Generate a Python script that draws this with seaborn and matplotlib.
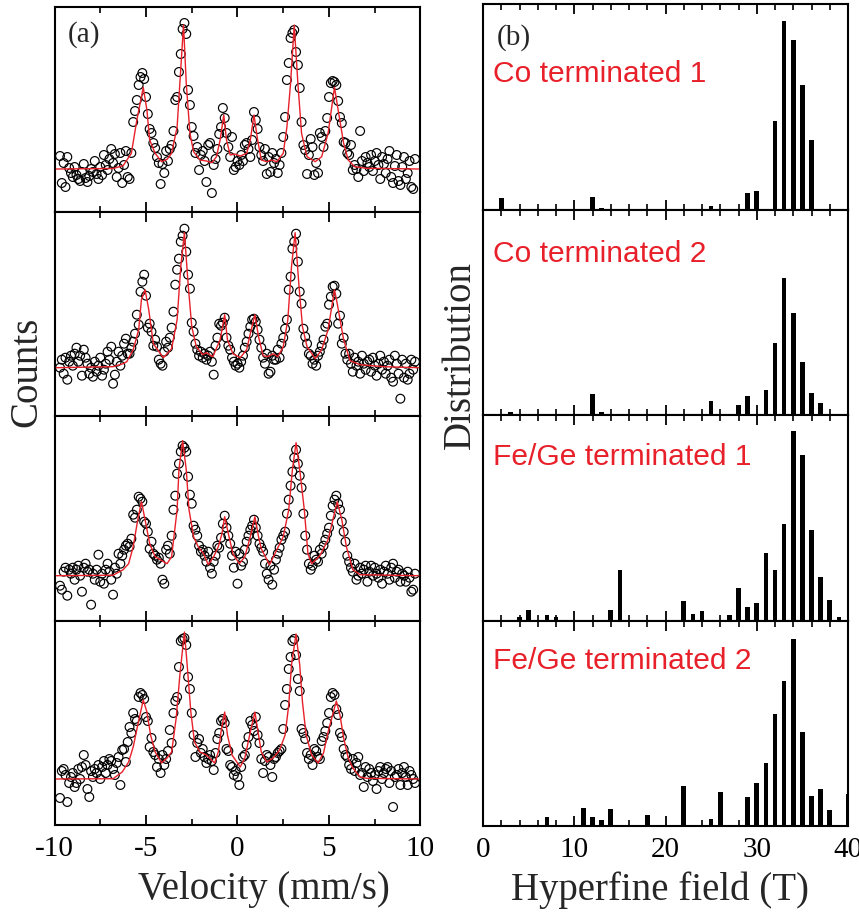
import numpy as np
import pandas as pd
import matplotlib
matplotlib.use("Agg")
import matplotlib.pyplot as plt
import seaborn as sns
from matplotlib.ticker import MultipleLocator

sns.set_style("white")
plt.rcParams["font.family"] = ["Liberation Serif", "DejaVu Serif"]
plt.rcParams["axes.unicode_minus"] = False
plt.rcParams["xtick.color"] = "black"
plt.rcParams["axes.edgecolor"] = "black"

RED = "#e8202a"

# ---------------------------------------------------------------- spectra
# channel velocities (mm/s), one count value per channel
velocity = np.round(np.arange(-97, 98) / 10, 1)

counts_co1 = [
    13, -14, 6, -18, 12, 1, -4, -8,
    2, -6, -10, -12, -3, 5, -9, -13, -7, 0,
    -3, 8, -5, -10, 2, -6, 14, 4, -1, 10,
    20, 6, 15, -8, 1, 16, -14, 4, 18, -8,
    -10, 16, 47, 58, 69, 84, 92, 96, 90, 72,
    55, 40, 36, 26, 21, 12, 6, -15, 5, -4,
    18, 8, 20, 24, 38, 69, 72, 97, 115, 140,
    146, 135, 79, 64, 42, 33, 16, 22, -1, 14,
    18, 8, -13, 24, 26, -24, 4, 10, 20, 35,
    42, 61, 51, 36, 22, 12, 32, -1, 2, 8,
    4, 14, 8, 24, 26, 20, 12, 29, 57, 49,
    40, 22, 14, 8, 20, -5, 12, -3, 16, 6,
    10, -4, 4, 16, 32, 52, 89, 106, 131, 136,
    139, 117, 104, 81, 47, 24, 19, -5, 14, 30,
    22, -6, 6, -4, 36, 32, 22, 38, 51, 72,
    86, 88, 87, 84, 68, 52, 46, 27, 26, 16,
    14, 24, -1, 4, 0, -8, 38, 8, -2, 12,
    6, 2, 14, -2, 8, 16, 4, -10, 12, 5,
    -4, 10, 18, -8, -14, 3, 14, -12, -16, 2,
    12, -10, -4, 8, -18, -20, 10,
]
counts_co2 = [
    0, 8, -6, 10, -12, 6, 12, 2,
    14, 20, 6, 12, -8, 18, 10, 4, -6, 0,
    -9, 6, -4, 2, 10, -8, -2, 4, 16, 8,
    21, -16, -7, 6, 16, 2, 12, 24, 29, 14,
    14, 20, 26, 34, 53, 43, 76, 86, 93, 72,
    40, 44, 36, 22, 28, 21, 8, 4, 2, 16,
    26, 20, 30, 40, 56, 83, 98, 109, 126, 132,
    139, 116, 93, 79, 45, 36, 24, 18, 12, 16,
    10, 14, 8, 12, 16, 6, -7, 22, 30, 44,
    42, 45, 50, 30, 22, 18, 10, 6, 2, 4,
    0, 6, 12, 20, 26, 34, 41, 48, 49, 46,
    38, 28, 20, 10, 4, 14, -6, -4, 12, 8,
    8, 18, 10, 24, 30, 39, 48, 78, 91, 119,
    126, 134, 106, 76, 64, 39, 31, 24, 14, 12,
    4, 8, 2, 12, 16, 22, 28, 41, 44, 63,
    71, 81, 82, 74, 44, 52, 24, 30, 14, 8,
    14, 4, -4, 10, 2, 6, -6, 12, 4, -2,
    6, 8, -4, 10, 2, -8, 4, 12, -2, 6,
    -6, 2, 8, -10, -14, 12, 4, -6, -31, 8,
    -10, 4, -12, -6, 8, -2, 6,
]
counts_fe1 = [
    -10, -14, 4, 8, -20, 6, 2, 8,
    -4, 6, 10, 0, -16, 8, 12, 4, 6, -29,
    2, -4, 6, 21, -6, 2, -8, 6, 12, 4,
    -4, -19, 8, 2, 22, 12, 20, 26, 30, 32,
    29, 37, 61, 58, 66, 79, 77, 74, 54, 52,
    44, 27, 34, 22, 20, 16, 18, 12, -4, -8,
    26, 30, 22, 40, 66, 80, 102, 112, 124, 130,
    128, 124, 99, 81, 72, 50, 46, 40, 30, 24,
    26, 20, 14, 24, 8, 2, 14, 20, 30, 28,
    38, 52, 60, 48, 40, 32, 20, 8, 24, -8,
    22, 10, 14, 26, 34, 40, 46, 50, 56, 48,
    40, 32, 28, 24, 12, 2, -4, 10, -9, 6,
    16, 22, 28, 36, 40, 44, 62, 76, 90, 104,
    118, 126, 112, 100, 88, 62, 40, 26, 12, 6,
    10, 20, 16, 14, 26, 22, 30, 36, 42, 48,
    60, 70, 76, 80, 72, 66, 54, 44, 34, 20,
    14, 8, 4, 12, -4, 0, 8, 2, 6, 10,
    -6, 4, 10, 0, 8, 2, -2, 6, -8, 4,
    10, 2, -4, 8, 12, -2, 4, 6, -6, 2,
    0, -6, 4, -2, -16, -14, 2,
]
counts_fe2 = [
    -19, 8, 10, 4, -23, -4, 2, 6,
    -8, -4, 10, 0, 12, 24, 14, -10, -18, 8,
    2, 10, 6, 14, 0, 12, 18, 6, 14, 20,
    18, 10, 4, 16, 22, -6, 29, 30, 17, 37,
    52, 46, 66, 60, 58, 82, 86, 84, 80, 62,
    58, 32, 41, 27, 24, 12, 20, 6, 24, 14,
    20, 28, 49, 36, 66, 78, 82, 112, 138, 140,
    141, 134, 102, 90, 66, 44, 22, 36, 40, 26,
    30, 22, 16, 20, 24, 18, 9, 26, 40, 46,
    58, 60, 56, 30, 28, 14, 12, 4, 8, 2,
    -6, 12, 22, 24, 34, 42, 58, 54, 48, 62,
    44, 36, 20, 6, 18, 24, 22, 14, 2, 20,
    22, 26, 28, 30, 50, 74, 90, 110, 122, 138,
    140, 124, 100, 88, 50, 46, 40, 26, 20, 24,
    14, 30, 28, 22, 20, 38, 42, 48, 56, 66,
    82, 86, 84, 70, 64, 46, 42, 30, 24, 22,
    14, 10, 20, 8, 16, 22, 4, 6, -8, 12,
    2, 10, 6, -2, 4, -10, 8, 12, 0, 6,
    10, 12, -4, 8, -28, 2, 4, 10, -6, 6,
    12, 2, -6, 8, 4, 0, -4,
]

# fitted sextet envelopes: (velocity, counts) nodes
fit_co1_v = [-9.9, -6.8, -6.25, -5.8, -5.5, -5.15, -4.95, -4.8, -4.5, -4.15, -3.85, -3.6,
             -3.3, -3.15, -2.95, -2.8, -2.6, -2.4, -2.05, -1.7, -1.4, -1.15, -0.95, -0.75,
             -0.6, -0.4, -0.15, 0.15, 0.5, 0.7, 0.9, 1.1, 1.3, 1.6, 1.85, 2.15, 2.5, 2.7,
             2.9, 3.1, 3.3, 3.5, 3.8, 4.25, 4.6, 4.95, 5.3, 5.5, 5.8, 6.05, 6.4, 7.05, 9.9]
fit_co1_y = [0, 0.5, 3.3, 15.7, 49, 81.7, 59, 29, 15.7, 7.3, 9.7, 15.7,
             42, 85.7, 144, 85.7, 35.7, 17.3, 9, 8, 6.3, 12.3, 29, 54,
             29, 14, 15, 13, 15.7, 29, 54, 29, 9, 7.3, 9, 7.3, 15.7, 42,
             85.7, 144, 85.7, 35.7, 12.3, 7.3, 12.3, 35.7, 81.7, 59, 25.7, 9, 2.3, 0.7, 0]

fit_co2_v = [-9.9, -6.8, -6.25, -6.05, -5.7, -5.4, -5.25, -5.05, -4.85, -4.6, -4.05, -3.6,
             -3.3, -3.1, -2.9, -2.7, -2.5, -2.25, -1.9, -1.7, -1.35, -0.95, -0.7, -0.55,
             -0.25, 0.15, 0.5, 0.7, 0.95, 1.15, 1.4, 1.65, 1.95, 2.2, 2.5, 2.75, 2.95,
             3.15, 3.35, 3.55, 3.8, 4.25, 4.6, 4.95, 5.3, 5.45, 5.8, 6.15, 6.7, 8.0, 9.9]
fit_co2_y = [0, 1, 4, 6, 18, 38, 68, 78, 58, 24, 10, 19,
             48, 101, 135, 84, 41, 21, 13, 15, 11, 28, 53, 28,
             14, 10, 18, 34, 53, 31, 12, 11, 14, 11, 21, 48, 101,
             135, 84, 41, 21, 9, 18, 38, 78, 64, 28, 7, 3, 1, 0]

fit_fe1_v = [-9.9, -6.8, -6.25, -5.95, -5.7, -5.45, -5.25, -5.05, -4.8, -4.5, -3.85, -3.6,
             -3.3, -3.2, -3.0, -2.8, -2.65, -2.4, -2.15, -1.85, -1.6, -1.3, -1.05, -0.85,
             -0.7, -0.5, -0.25, 0.1, 0.4, 0.7, 0.95, 1.15, 1.3, 1.75, 2.15, 2.5, 2.8,
             3.0, 3.2, 3.4, 3.65, 3.85, 4.05, 4.5, 4.95, 5.45, 5.7, 5.95, 6.3, 6.7, 9.9]
fit_fe1_y = [0, 0.5, 6, 12, 29, 56, 74, 56, 32, 19, 12, 19,
             66, 106, 135, 106, 66, 39, 29, 22, 11, 19, 29, 42,
             59, 42, 22, 12, 19, 39, 59, 39, 27, 11, 26, 39, 66,
             106, 133, 106, 66, 22, 12, 20, 36, 74, 56, 29, 6, 1, 0]

fit_fe2_v = [-9.9, -6.8, -6.3, -5.95, -5.7, -5.45, -5.15, -4.95, -4.75, -4.5, -4.15, -3.85,
             -3.6, -3.35, -3.15, -2.9, -2.75, -2.55, -2.35, -2.05, -1.7, -1.25, -1.05, -0.9,
             -0.7, -0.55, -0.3, 0.15, 0.4, 0.7, 0.95, 1.15, 1.3, 1.6, 1.95, 2.3, 2.6, 2.8,
             2.95, 3.2, 3.4, 3.55, 3.75, 4.05, 4.4, 4.7, 4.95, 5.4, 5.6, 5.8, 6.05, 6.3,
             6.7, 7.05, 9.9]
fit_fe2_y = [0, 0.3, 7, 17, 32, 54, 79, 67, 44, 27, 16, 21,
             27, 61, 104, 147, 114, 67, 37, 27, 24, 16, 27, 47,
             67, 44, 24, 12, 21, 47, 67, 44, 27, 17, 21, 29, 44, 74,
             114, 145, 114, 77, 44, 24, 16, 26, 47, 78, 64, 41, 21, 11,
             2, 0.7, 0]

# ------------------------------------------------- hyperfine field distributions
co1_field = [2, 12, 13, 25, 29, 30, 32, 33, 34, 35, 36]
co1_dist = [5.5, 6.0, 0.6, 1.6, 8.1, 8.9, 42.9, 91.9, 82.7, 60.8, 33.7]
co2_field = [3, 12, 13, 25, 28, 29, 31, 32, 33, 34, 35, 36, 37]
co2_dist = [1.3, 10.2, 1.3, 6.8, 4.9, 9.2, 12.2, 35.2, 66.9, 49.4, 25.8, 10.5, 5.7]
fe1_field = [4, 5, 7, 8, 14, 15, 22, 23, 24, 27, 28, 29, 30, 31, 32, 33, 34, 35, 36, 37, 38, 39]
fe1_dist = [1.6, 5.1, 2.6, 1.5, 5.1, 24.5, 9.5, 3.3, 4.6, 2.6, 15.8, 6.5, 8.5, 33.0,
            24.5, 47.0, 92.0, 80.4, 44.2, 21.2, 10.0, 1.6]
fe2_field = [7, 11, 12, 13, 14, 18, 22, 25, 26, 27, 29, 30, 31, 32, 33, 34, 35, 36, 37, 38, 40]
fe2_dist = [4.4, 8.8, 4.4, 2.9, 8.3, 5.3, 19.4, 3.4, 16.5, 0.5, 14.1, 20.9, 30.8, 54.5,
            70.5, 91.2, 45.5, 14.6, 17.8, 7.8, 15.4]

sample_names = ["Co terminated 1", "Co terminated 2", "Fe/Ge terminated 1", "Fe/Ge terminated 2"]

spectra = [
    (counts_co1, fit_co1_v, fit_co1_y, (-42.5, 162.0)),
    (counts_co2, fit_co2_v, fit_co2_y, (-48.3, 156.2)),
    (counts_fe1, fit_fe1_v, fit_fe1_y, (-44.8, 159.7)),
    (counts_fe2, fit_fe2_v, fit_fe2_y, (-46.0, 158.5)),
]
distributions = [
    (co1_field, co1_dist),
    (co2_field, co2_dist),
    (fe1_field, fe1_dist),
    (fe2_field, fe2_dist),
]
name_y = [0.622, 0.746, 0.757, 0.764]

W, H = 859, 919
fig = plt.figure(figsize=(W / 100, H / 100), dpi=100)


def style_axes(ax, major, minor, show_labels):
    for sp in ax.spines.values():
        sp.set_visible(True)
        sp.set_color("black")
        sp.set_linewidth(1.5)
    ax.xaxis.set_major_locator(MultipleLocator(major))
    ax.xaxis.set_minor_locator(MultipleLocator(minor))
    ax.tick_params(axis="x", which="both", direction="in", top=True, bottom=True,
                   labelbottom=show_labels, labelsize=21, pad=8, colors="black")
    ax.tick_params(axis="x", which="major", length=7, width=1.3)
    ax.tick_params(axis="x", which="minor", length=4, width=1.2)
    ax.tick_params(axis="y", which="both", left=False, right=False, labelleft=False)
    ax.set_yticks([])
    ax.set_xlabel("")
    ax.set_ylabel("")


# left column: Mössbauer spectra
top_px, bot_px = 7.0, 825.0
ph = (bot_px - top_px) / 4
for i, (counts, fv, fy, ylim) in enumerate(spectra):
    y0 = 1 - (top_px + (i + 1) * ph) / H
    ax = fig.add_axes([54.5 / W, y0, 366 / W, ph / H])
    df = pd.DataFrame({"velocity": velocity, "counts": counts})
    sns.scatterplot(data=df, x="velocity", y="counts", ax=ax, color="black",
                    edgecolor="black", s=40, linewidth=0.85, legend=False, zorder=2)
    ax.collections[-1].set_facecolor("none")
    fit = pd.DataFrame({"velocity": fv, "counts": fy})
    sns.lineplot(data=fit, x="velocity", y="counts", ax=ax, sort=False, estimator=None,
                 color=RED, linewidth=1.0, legend=False, zorder=3)
    ax.set_xlim(-10, 10)
    ax.set_ylim(*ylim)
    style_axes(ax, 5, 2.5, i == 3)
    if i == 0:
        ax.text(0.037, 0.829, "(a)", transform=ax.transAxes, fontsize=21,
                ha="left", va="baseline")

# right column: hyperfine field distributions
top_px, bot_px = 4.0, 826.0
ph = (bot_px - top_px) / 4
for i, (field, dist) in enumerate(distributions):
    y0 = 1 - (top_px + (i + 1) * ph) / H
    ax = fig.add_axes([483 / W, y0, 365 / W, ph / H])
    df = pd.DataFrame({"field": field, "dist": dist})
    sns.barplot(data=df, x="field", y="dist", ax=ax, native_scale=True, width=0.5,
                color="black", linewidth=0, errorbar=None, saturation=1)
    ax.set_xlim(0, 40)
    ax.set_ylim(0, 100)
    style_axes(ax, 10, 2, i == 3)
    ax.text(0.027, name_y[i], sample_names[i], transform=ax.transAxes, fontsize=21.6,
            color=RED, ha="left", va="baseline", family=["Liberation Sans", "DejaVu Sans"])
    if i == 0:
        ax.text(0.038, 0.80, "(b)", transform=ax.transAxes, fontsize=21,
                ha="left", va="baseline")

fig.text(27 / W, 1 - 371.5 / H, "Counts", rotation=90, fontsize=28, ha="center", va="center")
fig.text(460.5 / W, 1 - 355 / H, "Distribution", rotation=90, fontsize=28, ha="center", va="center")
fig.text(263.5 / W, 1 - 890 / H, "Velocity (mm/s)", fontsize=28, ha="center", va="center")
fig.text(660 / W, 1 - 890 / H, "Hyperfine field (T)", fontsize=28, ha="center", va="center")

fig.savefig("out.png", dpi=100)
